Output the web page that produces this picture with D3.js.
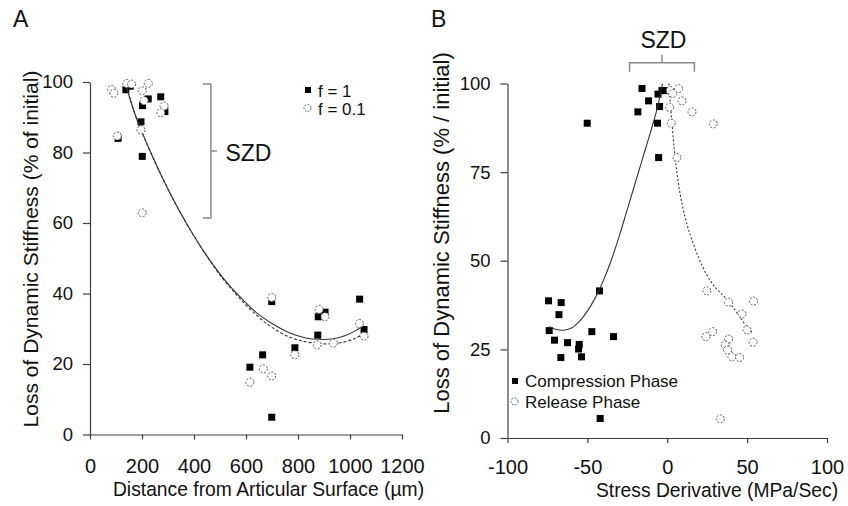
<!DOCTYPE html>
<html><head><meta charset="utf-8">
<script src="https://cdn.jsdelivr.net/npm/d3@7"></script>
<style>body{margin:0;background:#fff;} svg{display:block;font-family:"Liberation Sans",Arial,sans-serif;}</style>
</head><body><svg id="c" width="848" height="506"></svg>
<script>
// ---------- Panel A data ----------
const xTicksA = [0, 200, 400, 600, 800, 1000, 1200];
const yTicksA = [0, 20, 40, 60, 80, 100];
const distF1  = [138, 155, 202, 224, 272, 196, 201, 108, 288, 699, 1037, 878, 904, 876, 1054, 788, 664, 615, 699];
const stiffF1 = [97.8, 98.8, 93.3, 95.2, 95.8, 88.7, 78.9, 84.0, 91.6, 37.7, 38.4, 33.4, 34.7, 28.2, 29.8, 24.6, 22.6, 19.1, 4.9];
const distF01  = [83, 92, 141, 160, 224, 201, 208, 285, 272, 105, 196, 201, 699, 881, 904, 1036, 1054, 874, 936, 788, 667, 699, 615];
const stiffF01 = [97.9, 96.8, 99.6, 99.4, 99.6, 97.5, 94.7, 93.2, 91.3, 84.7, 86.4, 62.9, 38.9, 35.5, 33.4, 31.5, 27.9, 25.4, 25.9, 22.6, 18.6, 16.6, 14.8];
// trendlines
const fitF1X = [135, 170, 196, 250, 300, 350, 400, 450, 513, 575, 641, 700, 769, 830, 880, 930, 980, 1020, 1051];
const fitF1Y = [100, 91.5, 86.5, 77.3, 69.6, 62.6, 56.3, 50.6, 44.3, 39.2, 34.5, 31.5, 28.8, 27.4, 27.0, 27.1, 28.0, 29.4, 31.0];
const fitF01X = [135, 170, 196, 250, 300, 350, 400, 450, 513, 575, 641, 700, 769, 830, 880, 930, 980, 1020, 1054];
const fitF01Y = [100, 91.5, 86.5, 77.3, 69.6, 62.6, 56.3, 50.5, 44.0, 38.7, 33.8, 30.4, 27.6, 26.3, 25.8, 25.7, 26.3, 27.3, 28.6];

// ---------- Panel B data ----------
const xTicksB = [-100, -50, 0, 50, 100];
const yTicksB = [0, 25, 50, 75, 100];
const compX = [-15.8, -11.7, -18.4, -5.8, -3.3, -1.7, -4.8, -6.1, -5.4, -50.1, -42.4, -74.3, -66.4, -67.8, -73.9, -47.2, -33.6, -70.6, -62.4, -55.1, -55.5, -66.6, -53.7, -42.0];
const compY = [98.6, 95.1, 92.0, 97.0, 98.0, 98.0, 93.5, 88.8, 79.1, 88.8, 41.5, 38.7, 38.2, 34.8, 30.3, 30.0, 28.6, 27.6, 26.9, 26.4, 25.1, 22.7, 22.9, 5.5];
const relX = [1.9, 3.5, 7.1, 9.2, 15.5, 1.5, 2.5, 6.1, 28.8, 24.8, 54.0, 38.4, 46.8, 49.9, 53.7, 24.2, 28.4, 38.4, 36.3, 37.8, 40.5, 45.3, 33.2];
const relY = [98.0, 97.2, 98.6, 95.1, 92.0, 93.3, 88.8, 79.1, 88.6, 41.5, 38.6, 38.3, 35.0, 30.5, 27.0, 28.6, 30.0, 27.9, 26.2, 24.8, 22.9, 22.7, 5.4];
const fitCompX = [-74, -70, -65, -60, -55, -50, -45, -40, -35, -30, -25, -20, -15, -10, -6, -3];
const fitCompY = [31.4, 30.7, 30.4, 31.0, 32.9, 35.8, 39.6, 44.4, 50.2, 57.0, 64.5, 72.0, 79.5, 87.0, 93.5, 100];
const fitRelX = [1, 2, 3, 4.5, 6, 8, 10, 12.5, 15, 20, 25, 30, 35, 40, 45, 50, 53];
const fitRelY = [100, 94, 88.5, 81, 75, 69, 64.5, 60, 56.5, 50.5, 45.8, 42.5, 40.2, 37.6, 34.4, 31.3, 29.8];

const svg = d3.select("#c");
const AX = "#404040";
const TXT = "#111";

const xA = d3.scaleLinear().domain([0, 1200]).range([90, 402]);
const yA = d3.scaleLinear().domain([0, 100]).range([434.5, 82]);
const xB = d3.scaleLinear().domain([-100, 100]).range([507.5, 827]);
const yB = d3.scaleLinear().domain([0, 100]).range([438, 83.5]);

function drawAxes(x, y, xt, yt, xPad) {
  const gx = svg.append("g").attr("transform", `translate(0,${y(0)})`)
    .call(d3.axisBottom(x).tickValues(xt).tickSize(5).tickSizeOuter(0).tickPadding(xPad).tickFormat(d3.format("d")));
  const gy = svg.append("g").attr("transform", `translate(${x.range()[0]},0)`)
    .call(d3.axisLeft(y).tickValues(yt).tickSize(7).tickSizeOuter(0).tickPadding(10).tickFormat(d3.format("d")));
  [gx, gy].forEach(g => {
    g.select(".domain").attr("stroke", AX).attr("stroke-width", 1.2);
    g.selectAll(".tick line").attr("stroke", AX).attr("stroke-width", 1.2);
    g.selectAll(".tick text").attr("fill", TXT).style("font-family", '"Liberation Sans",Arial,sans-serif');
  });
  gy.selectAll(".tick text").style("font-size", "18.5px");
  gx.selectAll(".tick text").style("font-size", "20px").text(d => d < 0 ? "-" + Math.abs(d) : d);
}
drawAxes(xA, yA, xTicksA, yTicksA, 19);
drawAxes(xB, yB, xTicksB, yTicksB, 17);

function line(x, y, xs, ys, dash) {
  const pts = xs.map((v, i) => [x(v), y(ys[i])]);
  svg.append("path").attr("d", d3.line().curve(d3.curveCatmullRom.alpha(0.5))(pts))
    .attr("fill", "none").attr("stroke", "#333").attr("stroke-width", 1.1)
    .attr("stroke-dasharray", dash || null);
}
function squares(x, y, xs, ys) {
  svg.append("g").selectAll("rect").data(xs).join("rect")
    .attr("x", (d) => x(d) - 3.5).attr("y", (d, i) => y(ys[i]) - 3.5)
    .attr("width", 7).attr("height", 7).attr("fill", "#000");
}
function circles(x, y, xs, ys) {
  svg.append("g").selectAll("circle").data(xs).join("circle")
    .attr("cx", d => x(d)).attr("cy", (d, i) => y(ys[i])).attr("r", 4)
    .attr("fill", "#fff").attr("stroke", "#555").attr("stroke-width", 1).attr("stroke-dasharray", "2,1.6");
}

// Panel A marks
squares(xA, yA, distF1, stiffF1);
line(xA, yA, fitF1X, fitF1Y);
line(xA, yA, fitF01X, fitF01Y, "3,2");
circles(xA, yA, distF01, stiffF01);

// Panel B marks
squares(xB, yB, compX, compY);
line(xB, yB, fitCompX, fitCompY);
line(xB, yB, fitRelX, fitRelY, "2,2");
circles(xB, yB, relX, relY);

// Text helpers
function text(x, y, s, size, anchor, rot) {
  const t = svg.append("text").attr("x", x).attr("y", y).text(s)
    .attr("fill", TXT).style("font-size", size + "px").attr("text-anchor", anchor || "start");
  if (rot) t.attr("transform", `rotate(-90,${x},${y})`);
  return t;
}
// panel letters
text(13, 27, "A", 23);
text(431, 27, "B", 23);
// axis titles
text(268.5, 496, "Distance from Articular Surface (µm)", 19.3, "middle");
text(717, 496.5, "Stress Derivative (MPa/Sec)", 19.3, "middle");
text(38, 249, "Loss of Dynamic Stiffness (% of initial)", 21, "middle", true);
text(449, 233, "Loss of Dynamic Stiffness (% / initial)", 22, "middle", true);

// SZD bracket A
const BR = "#8a8a8a";
const bx = xA(465), bt = yA(99.4), bb = yA(61.4), bm = yA(80.4);
svg.append("path").attr("d", `M${bx - 8},${bt}H${bx}V${bb}H${bx - 8}M${bx},${bm}H${bx + 6}`)
  .attr("fill", "none").attr("stroke", BR).attr("stroke-width", 1.5);
text(bx + 14.5, bm + 10, "SZD", 23);

// SZD bracket B
const l = xB(-23.6), r = xB(17), hy = 62.7, mx = (l + r) / 2;
svg.append("path").attr("d", `M${l},${hy + 9}V${hy}H${r}V${hy + 9}M${mx},${hy}V${hy - 8}`)
  .attr("fill", "none").attr("stroke", BR).attr("stroke-width", 1.5);
text(mx + 1.5, 47.7, "SZD", 23, "middle");

// Legend A
svg.append("rect").attr("x", 305).attr("y", 87).attr("width", 6).attr("height", 6).attr("fill", "#000");
svg.append("circle").attr("cx", 307.5).attr("cy", 108).attr("r", 3.5).attr("fill", "#fff")
  .attr("stroke", "#555").attr("stroke-dasharray", "1.8,1.4");
text(318, 97, "f = 1", 17);
text(318, 114.5, "f = 0.1", 17);

// Legend B
svg.append("rect").attr("x", 512).attr("y", 378).attr("width", 6).attr("height", 6).attr("fill", "#000");
svg.append("circle").attr("cx", 514.5).attr("cy", 401.5).attr("r", 3.5).attr("fill", "#fff")
  .attr("stroke", "#555").attr("stroke-dasharray", "1.8,1.4");
text(525, 387, "Compression Phase", 17);
text(525, 408, "Release Phase", 17);
</script></body></html>
